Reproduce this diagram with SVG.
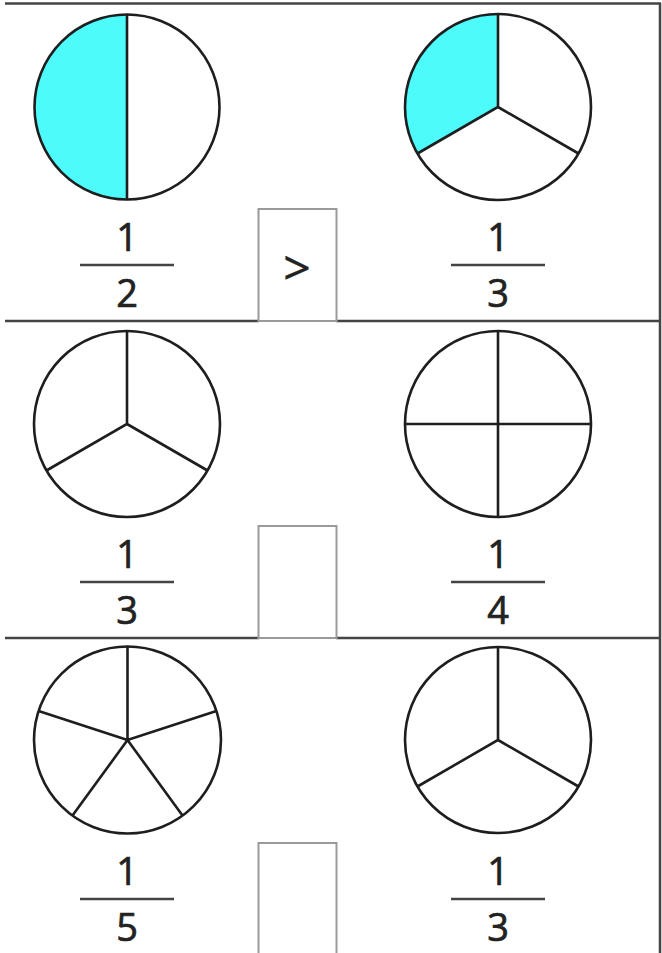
<svg xmlns="http://www.w3.org/2000/svg" width="662" height="953" viewBox="0 0 662 953">
<style>
.c{fill:none;stroke:#1e1e1e;stroke-width:2.6}
.s{stroke:#1e1e1e;stroke-width:2.6;fill:none}
.cy{fill:#4dfbfb;stroke:none}
.box{fill:none;stroke:#9a9a9a;stroke-width:2}
.div{stroke:#444;stroke-width:2.5;fill:none}
.fl{stroke:#444;stroke-width:2.5}
.t{font-family:"Open Sans","Noto Sans",sans-serif;font-size:38px;fill:#222;stroke:#222;stroke-width:0.7;text-anchor:middle}
.g{font-family:"Open Sans","Noto Sans",sans-serif;font-size:48px;fill:#222;stroke:#222;stroke-width:0.5;text-anchor:middle}
</style>
<rect width="662" height="953" fill="#fff"/>
<g id="frame">
<line class="div" x1="5" y1="3.5" x2="661" y2="3.5"/>
<line class="div" x1="660" y1="3" x2="660" y2="953"/>
<line class="div" x1="5" y1="321" x2="259" y2="321"/>
<line class="div" x1="336" y1="321" x2="661" y2="321"/>
<line class="div" x1="5" y1="638" x2="259" y2="638"/>
<line class="div" x1="336" y1="638" x2="661" y2="638"/>
</g>
<g id="row1-left">
<path class="cy" d="M127 14.5 A92.5 92.5 0 0 0 127 199.5 Z"/>
<circle class="c" cx="127" cy="107" r="92.5"/>
<line class="s" x1="127" y1="14.5" x2="127" y2="199.5"/>
<text class="t" x="127" y="251">1</text>
<line class="fl" x1="80" y1="265" x2="174" y2="265"/>
<text class="t" x="127" y="307">2</text>
</g>
<g id="row1-box">
<rect class="box" x="258.5" y="209" width="78" height="112"/>
<text class="g" x="297" y="285">&gt;</text>
</g>
<g id="row1-right">
<path class="cy" d="M498 107 L498 14 A93 93 0 0 0 417.5 153.5 Z"/>
<circle class="c" cx="498" cy="107" r="93"/>
<path class="s" d="M498 14 L498 107 L417.5 153.5 M498 107 L578.5 153.5"/>
<text class="t" x="498" y="251">1</text>
<line class="fl" x1="451" y1="265" x2="545" y2="265"/>
<text class="t" x="498" y="307">3</text>
</g>
<g id="row2-left">
<circle class="c" cx="127" cy="424" r="93"/>
<path class="s" d="M127 331 L127 424 L46.5 470.5 M127 424 L207.5 470.5"/>
<text class="t" x="127" y="568">1</text>
<line class="fl" x1="80" y1="582" x2="174" y2="582"/>
<text class="t" x="127" y="624">3</text>
</g>
<g id="row2-box">
<rect class="box" x="258.5" y="526" width="78" height="112"/>
</g>
<g id="row2-right">
<circle class="c" cx="498" cy="424" r="93"/>
<path class="s" d="M498 331 L498 517 M405 424 L591 424"/>
<text class="t" x="498" y="568">1</text>
<line class="fl" x1="451" y1="582" x2="545" y2="582"/>
<text class="t" x="498" y="624">4</text>
</g>
<g id="row3-left">
<circle class="c" cx="127.5" cy="740" r="93.5"/>
<path class="s" d="M127.5 646.5 L127.5 740 L216.4 711.1 M127.5 740 L182.5 815.6 M127.5 740 L72.5 815.6 M127.5 740 L38.6 711.1"/>
<text class="t" x="127" y="885">1</text>
<line class="fl" x1="80" y1="899" x2="174" y2="899"/>
<text class="t" x="127" y="941">5</text>
</g>
<g id="row3-box">
<rect class="box" x="258.5" y="843" width="78" height="112"/>
</g>
<g id="row3-right">
<circle class="c" cx="498" cy="740" r="93"/>
<path class="s" d="M498 647 L498 740 L417.5 786.5 M498 740 L578.5 786.5"/>
<text class="t" x="498" y="885">1</text>
<line class="fl" x1="451" y1="899" x2="545" y2="899"/>
<text class="t" x="498" y="941">3</text>
</g>
</svg>
